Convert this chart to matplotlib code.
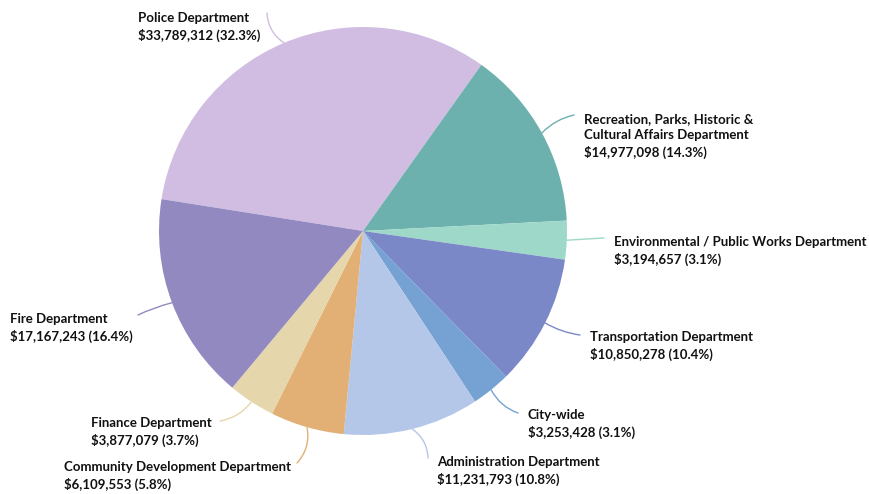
import matplotlib
matplotlib.use("Agg")
import matplotlib.pyplot as plt
import numpy as np

# ---- data ----
departments = [
    "Police Department",
    "Recreation, Parks, Historic &\nCultural Affairs Department",
    "Environmental / Public Works Department",
    "Transportation Department",
    "City-wide",
    "Administration Department",
    "Community Development Department",
    "Finance Department",
    "Fire Department",
]
amounts = [33789312, 14977098, 3194657, 10850278, 3253428,
           11231793, 6109553, 3877079, 17167243]
colors = ["#d1bde2", "#6db1ae", "#9ed8c8", "#7b88c8", "#75a2d3",
          "#b4c7e8", "#e2b074", "#e5d7ab", "#9289c0"]

# ---- layout (pixel coordinates, y from top) ----
W, H = 870, 494
cx, cy, R = 363, 231, 204
start_angle = 171
# label text top-left anchor (x, y of first line center) and connector end
label_pos = [(138, 17), (584, 118), (614, 241), (590, 336), (528, 414),
             (437, 461), (64, 466), (91, 422), (10, 318)]
conn_end = [(267, 13), (574, 115), (604, 238), (580, 335), (518, 413),
            (428, 458), (297, 463), (220, 421), (138, 315)]
conn_rad = [-0.25, -0.15, 0.0, 0.1, 0.2, -0.25, -0.25, -0.2, 0.05]

fig = plt.figure(figsize=(W / 100, H / 100), dpi=100)
ax = fig.add_axes([0, 0, 1, 1])

wedges, _ = ax.pie(amounts, colors=colors, startangle=start_angle,
                   counterclock=False, center=(cx, H - cy), radius=R,
                   wedgeprops=dict(linewidth=0))
ax.set_xlim(0, W)
ax.set_ylim(0, H)
ax.set_aspect("equal")
ax.axis("off")

total = sum(amounts)
font = dict(family=["Lato", "DejaVu Sans"], fontweight="bold", fontsize=9.5,
            color="#111111")
for i, (w, name, amt) in enumerate(zip(wedges, departments, amounts)):
    mid = np.deg2rad((w.theta1 + w.theta2) / 2)
    sx = cx + R * np.cos(mid)
    sy = (H - cy) + R * np.sin(mid)
    ex, ey = conn_end[i]
    ax.annotate("", xy=(ex, H - ey), xytext=(sx, sy),
                arrowprops=dict(arrowstyle="-", color=colors[i], lw=1.0,
                                shrinkA=0, shrinkB=0,
                                connectionstyle=f"arc3,rad={conn_rad[i]}"))
    txt = f"{name}\n${amt:,} ({amt / total * 100:.1f}%)"
    lx, ly = label_pos[i]
    ax.text(lx, H - ly + 5, txt, ha="left", va="top", linespacing=1.42,
            **font)

fig.savefig("out.png", dpi=100)
